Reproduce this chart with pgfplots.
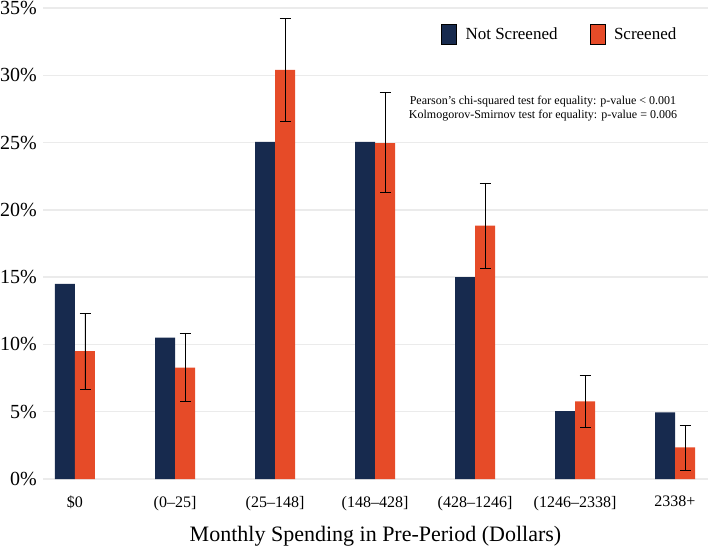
\documentclass[border=0pt]{standalone}
\usepackage{fontspec}
\setmainfont{Liberation Serif}
\usepackage{pgfplots}
\pgfplotsset{compat=1.18}
\definecolor{navy}{HTML}{172A4E}
\definecolor{orng}{HTML}{E64B28}
\definecolor{gridc}{HTML}{EBEBEB}
\begin{document}
\begin{tikzpicture}
\begin{axis}[
  name=ax,
  scale only axis, width=665pt, height=471pt,
  xmin=-0.32, xmax=6.33, ymin=0, ymax=35,
  ybar=0pt, bar width=0.2,
  axis line style={draw=none},
  major tick length=0pt,
  ymajorgrids, grid style={gridc, line width=1.3pt},
  ytick={0,5,10,15,20,25,30,35},
  yticklabels={0\%,5\%,10\%,15\%,20\%,25\%,30\%,35\%},
  xtick={0,1,2,3,4,5,6},
  xticklabels={{\$0},{{}(0--25]},{{}(25--148]},{{}(148--428]},{{}(428--1246]},{{}(1246--2338]},{2338+}},
  /pgf/number format/assume math mode=true,
  yticklabel style={font=\fontsize{20}{24}\selectfont, inner sep=0pt, xshift=-6pt},
  xticklabel style={font=\fontsize{16}{19}\selectfont, inner sep=0pt, yshift=-17pt},
  xlabel={Monthly Spending in Pre-Period (Dollars)},
  xlabel style={font=\fontsize{22}{26}\selectfont, inner sep=0pt, yshift=-15pt},
  legend columns=2,
  legend style={draw=none, fill=none, at={(rel axis cs:0.777,0.945)}, anchor=center,
    font=\fontsize{17}{20}\selectfont, /tikz/every even column/.append style={column sep=30pt}},
  area legend,
  legend image post style={xscale=0.88, yscale=3.5},
  legend cell align=left,
]
\addplot[fill=navy, draw=none] coordinates {
 (0,14.5) (1,10.5) (2,25.05) (3,25.05) (4,15.0) (5,5.05) (6,4.95)};
\addlegendentry{\hspace{7pt}Not Screened}
\addplot[fill=orng, draw=none,
  error bars/.cd, y dir=both, y explicit,
  error bar style={black, line width=0.7pt},
  error mark options={black, line width=0.7pt, mark size=5.5pt, rotate=90}]
  table[x=x, y=y, y error plus=ep, y error minus=em] {
x y ep em
0 9.5 2.83 2.81
1 8.27 2.58 2.53
2 30.4 3.8 3.8
3 24.96 3.74 3.66
4 18.82 3.18 3.14
5 5.77 1.93 1.91
6 2.35 1.66 1.68
};
\addlegendentry{\hspace{7pt}Screened}
\node[font=\fontsize{12}{14}\selectfont, align=center] at (axis cs:4.68,27.5)
 {Pearson{\char"0027}s chi-squared test for equality: p-value < 0.001\\Kolmogorov-Smirnov test for equality: p-value = 0.006};
\end{axis}
\path (ax.south west) ++(-43pt,-67pt) coordinate (bl);
\path (ax.north east) ++(0pt,8pt) coordinate (tr);
\pgfresetboundingbox
\path (bl) rectangle (tr);
\end{tikzpicture}
\end{document}
